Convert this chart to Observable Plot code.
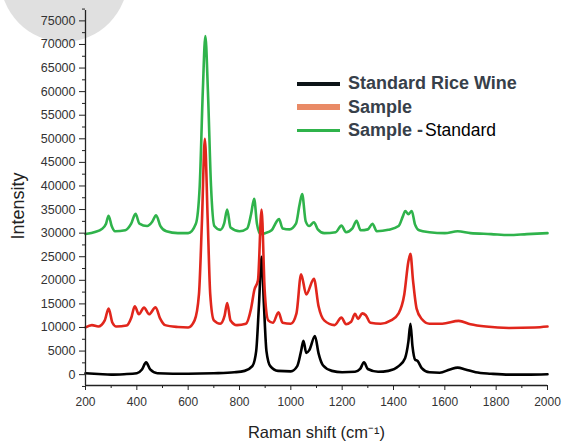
<!DOCTYPE html>
<html>
<head>
<meta charset="utf-8">
<script src="https://cdn.jsdelivr.net/npm/d3@7"></script>
<script src="https://cdn.jsdelivr.net/npm/@observablehq/plot@0.6"></script>
<style>
  html, body { margin: 0; padding: 0; background: #fff; }
  #wrap { position: relative; width: 563px; height: 448px; overflow: hidden; font-family: "Liberation Sans", Arial, sans-serif; }
  #blob { position: absolute; left: 0px; top: -88px; width: 128px; height: 130px; border-radius: 50%; background: #e0e0e0; }
  #chart { position: absolute; left: 0; top: 0; }
  #legend { position: absolute; left: 297px; top: 72px; font-size: 18px; font-weight: bold; color: #37404a; line-height: 23.5px; }
  .row { display: flex; align-items: center; white-space: nowrap; }
  .sw { width: 43px; margin-right: 8px; }
  .plain { background: #fff; color: #000; font-weight: normal; font-size: 17.5px; padding: 0 2px; }
</style>
</head>
<body>
<div id="wrap">
  <div id="blob"></div>
  <div id="chart"></div>
  <div id="legend"></div>
</div>
<script>
// Series names and colours
const seriesNames = ["Standard Rice Wine", "Sample", "Sample - Standard"];
const seriesColors = ["#000000", "#e1261c", "#2fb34b"];
const legendColors = ["#0d1418", "#e98a66", "#2fb34b"];

// Raman shift (cm^-1), intensity — Standard Rice Wine
const standard = [
  [200,300],[250,150],[300,0],[350,100],[400,300],[420,1100],[436,2600],[452,1100],[480,300],
  [540,200],[600,200],[700,300],[780,500],[820,800],[850,1800],[865,5000],[876,15000],[886,25000],
  [895,15000],[905,5000],[920,1800],[950,800],[1000,700],[1025,1800],[1040,5000],[1049,7200],
  [1060,4600],[1072,5200],[1094,8200],[1108,4500],[1125,2000],[1160,800],[1200,500],[1250,600],
  [1270,1200],[1285,2600],[1300,1200],[1340,600],[1380,800],[1420,1800],[1445,3500],[1458,7000],
  [1466,10800],[1474,6000],[1484,3200],[1494,2900],[1510,1400],[1540,500],[1580,400],[1620,1100],
  [1650,1500],[1680,1100],[1720,500],[1780,200],[1850,0],[1920,0],[2000,100]
];

// Sample (offset +10000)
const sample = [
  [200,10000],[225,10500],[250,10200],[275,11500],[290,14000],[305,11000],[320,10200],[360,10400],
  [378,12000],[392,14500],[408,12800],[428,14200],[448,12800],[473,14300],[490,12000],[510,10500],
  [560,10100],[600,10000],[625,11500],[642,17000],[654,33000],[665,50000],[676,33000],[686,17000],
  [700,11500],[725,10800],[742,12500],[752,15200],[765,11500],[790,10500],[825,10800],[845,14000],
  [858,18000],[872,20000],[886,35000],[898,18000],[912,11500],[930,11000],[952,13200],[968,11000],
  [1000,10800],[1022,13000],[1040,21300],[1060,17000],[1090,20300],[1108,14500],[1130,11500],
  [1170,10500],[1197,12100],[1215,10700],[1235,11200],[1250,12900],[1262,11800],[1278,13000],
  [1292,12600],[1310,11000],[1350,10800],[1390,11500],[1420,13000],[1442,17000],[1458,24000],
  [1466,25600],[1476,20000],[1490,14000],[1510,11800],[1540,10800],[1590,10800],[1654,11400],
  [1700,10700],[1760,10200],[1850,9900],[1950,10000],[2000,10200]
];

// Sample - Standard (offset +30000)
const difference = [
  [200,29800],[240,30300],[262,30800],[280,32000],[290,33700],[302,31500],[315,30400],[355,30600],
  [378,32000],[395,34100],[410,32000],[440,31500],[460,32400],[475,33800],[492,31500],[515,30400],
  [560,30000],[600,30000],[630,32000],[645,40000],[657,60000],[667,71800],[677,60000],[689,40000],
  [702,31500],[725,30700],[740,32000],[752,35000],[765,31200],[800,30400],[830,31000],[845,34000],
  [857,37300],[868,32000],[882,29800],[900,30000],[925,30600],[945,32500],[954,33000],[968,31000],
  [995,30800],[1020,32000],[1034,36000],[1044,38300],[1058,32500],[1072,31500],[1090,32300],
  [1105,30800],[1130,30000],[1175,30200],[1197,31600],[1215,30200],[1240,31000],[1256,32600],
  [1272,30600],[1300,30800],[1318,32000],[1335,30400],[1380,30700],[1420,31500],[1436,33500],
  [1446,34700],[1458,34000],[1471,34700],[1484,31800],[1500,30600],[1540,30200],[1600,30000],
  [1650,30400],[1700,30000],[1780,29800],[1850,29600],[1920,29800],[2000,30000]
];

// Axis ticks
const xTicks = d3.range(200, 2001, 200);
const xMinor = d3.range(300, 2000, 200);
const yTicks = d3.range(0, 75001, 5000);
const yMinor = d3.range(-2500, 77501, 2500).filter(v => v % 5000 !== 0);
const xDomain = [200, 2000];
const yDomain = [-2300, 77200];

const rows = [
  ...standard.map(([x, y]) => ({x, y, s: seriesNames[0]})),
  ...sample.map(([x, y]) => ({x, y, s: seriesNames[1]})),
  ...difference.map(([x, y]) => ({x, y, s: seriesNames[2]}))
];
const bySeries = name => rows.filter(d => d.s === name);

const plot = Plot.plot({
  width: 563,
  height: 448,
  marginLeft: 85,
  marginRight: 16,
  marginTop: 10,
  marginBottom: 63,
  style: {background: "transparent", fontFamily: "Liberation Sans, Arial, sans-serif", color: "#333"},
  x: {domain: xDomain},
  y: {domain: yDomain},
  color: {domain: seriesNames, range: seriesColors},
  marks: [
    Plot.lineY(bySeries(seriesNames[0]), {x: "x", y: "y", stroke: "s", strokeWidth: 2.6, curve: "monotone-x"}),
    Plot.lineY(bySeries(seriesNames[2]), {x: "x", y: "y", stroke: "s", strokeWidth: 2.6, curve: "monotone-x"}),
    Plot.lineY(bySeries(seriesNames[1]), {x: "x", y: "y", stroke: "s", strokeWidth: 2.6, curve: "monotone-x"}),
    Plot.axisX({ticks: xTicks, tickSize: 5, tickPadding: 7, fontSize: 12, tickFormat: d => String(d), label: null, stroke: "#222"}),
    Plot.axisX({ticks: xMinor, tickSize: 3, text: null, label: null, stroke: "#222"}),
    Plot.axisY({ticks: yTicks, tickSize: 6, tickPadding: 4, fontSize: 12.5, tickFormat: d => String(d), label: null, stroke: "#222"}),
    Plot.axisY({ticks: yMinor, tickSize: 3, text: null, label: null, stroke: "#222"}),
    Plot.ruleY([yDomain[0]], {stroke: "#222", strokeWidth: 1.3}),
    Plot.ruleX([xDomain[0]], {stroke: "#222", strokeWidth: 1.3}),
    Plot.text(["Raman shift (cm\u207B\u00B9)"], {frameAnchor: "bottom", dy: 52, fontSize: 16.5, fill: "#222"}),
    Plot.text(["Intensity"], {frameAnchor: "left", textAnchor: "middle", dx: -67, dy: 8, rotate: -90, fontSize: 18, fill: "#222"})
  ]
});
document.getElementById("chart").appendChild(plot);

// Legend
const legend = document.getElementById("legend");
const swHeights = ["4px", "6px", "3px"];
seriesNames.forEach((name, i) => {
  const row = document.createElement("div");
  row.className = "row";
  const sw = document.createElement("div");
  sw.className = "sw";
  sw.style.background = legendColors[i];
  sw.style.height = swHeights[i];
  row.appendChild(sw);
  const label = document.createElement("span");
  if (i === 2) {
    label.innerHTML = 'Sample -<span class="plain">Standard</span>';
  } else {
    label.textContent = name;
  }
  row.appendChild(label);
  legend.appendChild(row);
});
</script>
</body>
</html>
